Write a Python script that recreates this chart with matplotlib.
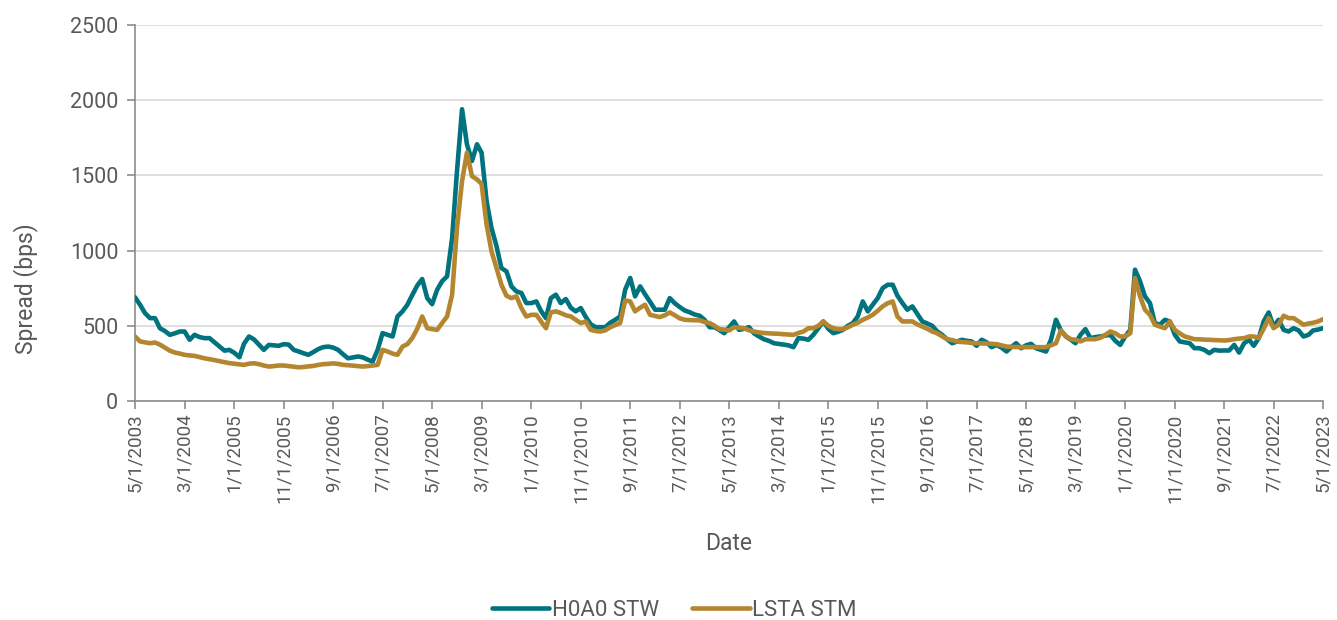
import numpy as np
import pandas as pd
import matplotlib
matplotlib.use("Agg")
import matplotlib.pyplot as plt

# monthly spreads (bps), 5/1/2003 .. 5/1/2023
h0a0 = [
    690, 640, 585, 551, 551, 484, 465, 440, 450, 462,
    462, 407, 440, 425, 418, 418, 390, 362, 335, 340,
    320, 291, 380, 429, 410, 375, 340, 373, 370, 367,
    378, 375, 340, 329, 318, 307, 325, 345, 358, 362,
    355, 340, 310, 284, 290, 296, 290, 275, 262, 340,
    451, 440, 429, 562, 596, 640, 707, 770, 811, 684,
    644, 740, 796, 829, 1084, 1529, 1940, 1707, 1596, 1707,
    1651, 1329, 1151, 1029, 884, 862, 762, 729, 718, 651,
    651, 662, 600, 551, 684, 707, 651, 678, 620, 596,
    618, 560, 510, 491, 491, 491, 520, 540, 562, 740,
    818, 696, 762, 710, 660, 607, 607, 607, 684, 650,
    625, 602, 590, 575, 567, 540, 491, 490, 473, 451,
    490, 529, 473, 480, 491, 450, 429, 411, 400, 384,
    380, 375, 370, 358, 418, 415, 407, 440, 484, 529,
    480, 451, 460, 473, 500, 518, 562, 662, 596, 640,
    684, 750, 773, 773, 700, 651, 607, 629, 580, 529,
    515, 500, 462, 440, 410, 384, 395, 407, 400, 396,
    367, 407, 390, 358, 373, 355, 329, 360, 384, 351,
    370, 380, 351, 340, 329, 407, 540, 470, 429, 407,
    384, 440, 478, 418, 425, 429, 435, 440, 400, 373,
    429, 473, 873, 796, 696, 651, 518, 507, 540, 529,
    440, 396, 390, 384, 351, 351, 340, 318, 340, 335,
    336, 336, 373, 322, 384, 407, 367, 418, 529, 589,
    495, 540, 473, 462, 484, 470, 429, 440, 469, 475,
    484,
]
lsta = [
    429, 396, 390, 384, 389, 375, 355, 335, 322, 315,
    307, 303, 300, 292, 284, 278, 272, 265, 258, 252,
    248, 244, 240, 248, 251, 245, 236, 229, 232, 236,
    236, 232, 228, 224, 226, 230, 233, 240, 245, 247,
    250, 247, 240, 238, 235, 232, 229, 232, 236, 240,
    340, 329, 315, 307, 362, 378, 420, 484, 562, 484,
    478, 473, 518, 562, 707, 1151, 1462, 1651, 1495, 1473,
    1444, 1173, 996, 884, 773, 700, 684, 696, 618, 562,
    573, 573, 530, 484, 589, 596, 585, 570, 562, 540,
    518, 529, 473, 465, 462, 470, 490, 505, 518, 669,
    662, 596, 620, 640, 573, 565, 558, 570, 589, 570,
    550, 540, 538, 537, 536, 525, 518, 500, 478, 475,
    469, 491, 487, 484, 470, 462, 456, 452, 450, 448,
    447, 444, 442, 440, 452, 462, 484, 484, 500, 529,
    500, 484, 478, 478, 490, 507, 520, 540, 555, 573,
    600, 629, 650, 662, 562, 529, 529, 529, 510, 495,
    480, 462, 450, 430, 411, 405, 396, 392, 390, 386,
    384, 383, 382, 380, 378, 370, 362, 360, 359, 358,
    358, 358, 358, 358, 358, 370, 384, 469, 430, 411,
    407, 396, 411, 411, 411, 420, 440, 462, 450, 429,
    429, 451, 818, 696, 607, 573, 507, 495, 484, 529,
    473, 450, 429, 420, 411, 410, 408, 407, 405, 404,
    402, 405, 411, 415, 418, 429, 429, 418, 480, 551,
    484, 507, 567, 551, 551, 530, 507, 515, 520, 529,
    544,
]
series_names = ["H0A0 STW", "LSTA STM"]
y_ticks = [0, 500, 1000, 1500, 2000, 2500]

dates = pd.date_range("2003-05-01", periods=len(h0a0), freq="MS")
assert len(h0a0) == len(lsta) == 241

teal = "#00737E"
gold = "#B3862F"
txt = "#595959"

plt.rcParams["font.family"] = ["Roboto", "DejaVu Sans"]

fig = plt.figure(figsize=(13.37, 6.2), dpi=100)
ax = fig.add_axes([135 / 1337, 1 - 401 / 620, 1188 / 1337, 376 / 620])

ax.plot(dates, h0a0, color=teal, lw=3.3, label=series_names[0], solid_capstyle="round", zorder=3)
ax.plot(dates, lsta, color=gold, lw=3.3, label=series_names[1], solid_capstyle="round", zorder=4)

ax.set_xlim(dates[0], dates[-1])
ax.set_ylim(0, 2500)
ax.set_yticks(y_ticks)
ax.yaxis.grid(True, color="#D9D9D9", lw=1.2)
ax.set_axisbelow(True)

tick_dates = dates[::10]
ax.set_xticks(tick_dates)
ax.set_xticklabels([f"{d.month}/{d.day}/{d.year}" for d in tick_dates], rotation=90)

for s in ["top", "right"]:
    ax.spines[s].set_visible(False)
for s in ["left", "bottom"]:
    ax.spines[s].set_color("#8C8C8C")
    ax.spines[s].set_linewidth(1.2)

ax.tick_params(axis="y", colors="#8C8C8C", labelcolor=txt, labelsize=15.5, length=6, width=1.2, pad=6)
ax.tick_params(axis="x", colors="#8C8C8C", labelcolor=txt, labelsize=13.5, length=6, width=1.2, pad=3)

ax.set_ylabel("Spread (bps)", fontsize=16.5, color=txt)
ax.yaxis.set_label_coords(-0.082, 0.30)
ax.set_xlabel("Date", fontsize=16.5, color=txt)
ax.xaxis.set_label_coords(0.5, -0.348)

fig.legend(loc="center", bbox_to_anchor=(674 / 1337, 1 - 610 / 620), ncol=2, frameon=False,
           fontsize=16, labelcolor=txt, handlelength=2.6, handletextpad=0.1, columnspacing=1.5)

fig.savefig("out.png", dpi=100)
